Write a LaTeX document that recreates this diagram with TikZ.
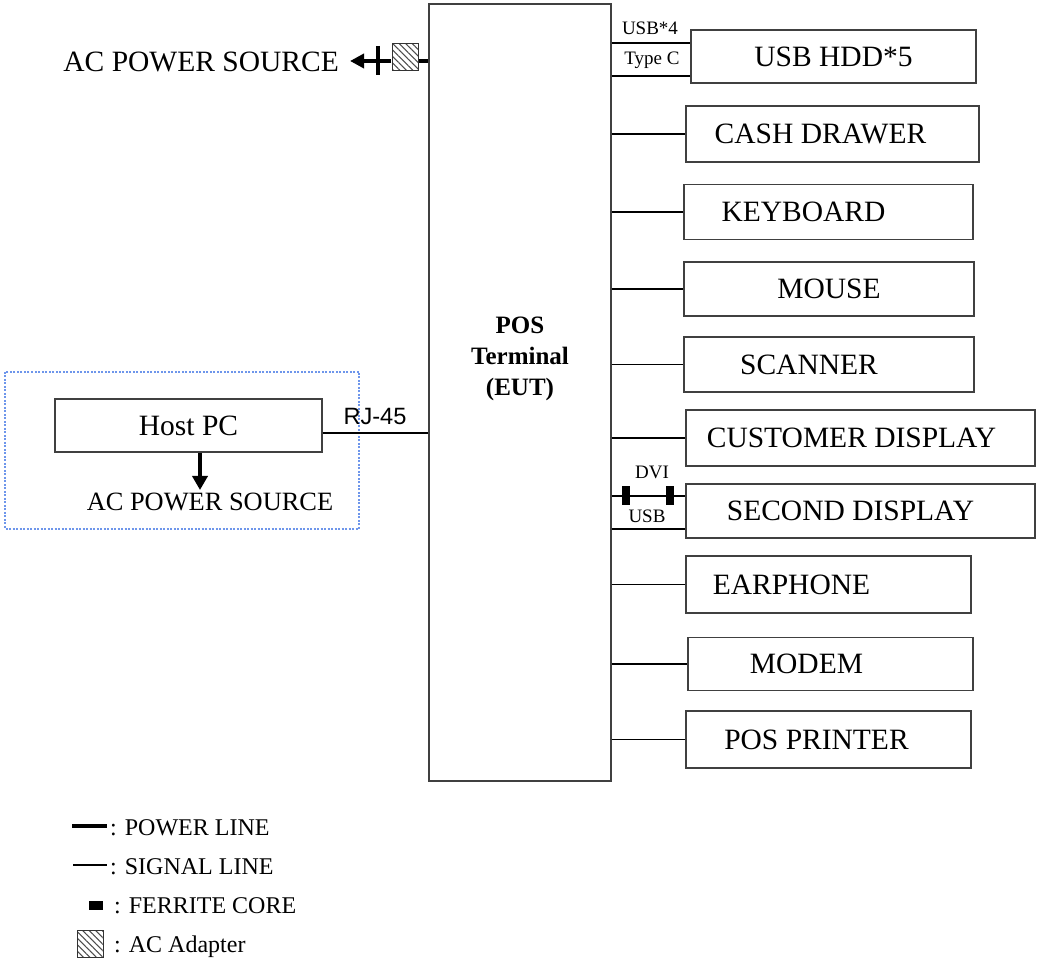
\documentclass[tikz,border=0pt]{standalone}
\usepackage{fontspec}
\setmainfont{Liberation Serif}
\setsansfont{Liberation Sans}
\usetikzlibrary{arrows.meta,patterns.meta}

\tikzset{
  device/.style={draw=black!75, line width=1.3pt, inner sep=0pt, font=\fontsize{29.5}{34}\selectfont},
  signal/.style={line width=1.2pt},
  power/.style={line width=3.5pt},
  ferrite/.style={fill=black, inner sep=0pt, minimum width=8, minimum height=19},
  adapter/.style={draw=black!80, line width=1pt, pattern={Lines[angle=-45, distance=4.6pt, line width=1.1pt]}, pattern color=black!70, inner sep=0pt, minimum width=26, minimum height=27},
  small/.style={font=\fontsize{19}{22}\selectfont, inner sep=0pt, anchor=base},
  legend/.style={anchor=base west, inner sep=0pt, font=\fontsize{24}{28}\selectfont},
}

\begin{document}
\begin{tikzpicture}[x=1pt, y=-1pt]
  \useasboundingbox (0,0) rectangle (1037,965);

  % EUT
  \node[draw=black!75, line width=1.5pt, inner sep=0pt, minimum width=182, minimum height=777,
        label={[font=\bfseries\fontsize{25}{31}\selectfont, align=center, yshift=34]center:POS\\Terminal\\(EUT)}]
        (pos) at (520,392.5) {};

  % Peripherals
  \node[device, minimum width=285, minimum height=53] (hdd) at (833.5,56.5) {USB HDD*5};
  \node[device, minimum width=293, minimum height=56] (cash) at (832.5,134) {CASH DRAWER\hspace*{24pt}};
  \node[device, minimum width=289, minimum height=55] (keyboard) at (828.5,212) {KEYBOARD\hspace*{50pt}};
  \node[device, minimum width=290, minimum height=54] (mouse) at (829,289) {MOUSE};
  \node[device, minimum width=290, minimum height=55] (scanner) at (829,364.5) {SCANNER\hspace*{40pt}};
  \node[device, minimum width=349, minimum height=56] (custdisp) at (860.5,438) {CUSTOMER DISPLAY\hspace*{18pt}};
  \node[device, minimum width=349, minimum height=54] (seconddisp) at (860.5,511) {SECOND DISPLAY\hspace*{20pt}};
  \node[device, minimum width=285, minimum height=57] (earphone) at (828.5,584.5) {EARPHONE\hspace*{74pt}};
  \node[device, minimum width=285, minimum height=53] (modem) at (830.5,664) {MODEM\hspace*{48pt}};
  \node[device, minimum width=285, minimum height=57] (printer) at (828.5,739.5) {POS PRINTER\hspace*{24pt}};

  % Connection points
  \coordinate (usb4) at ([yshift=13.5]hdd.west);
  \coordinate (typec) at ([yshift=-19.5]hdd.west);
  \coordinate (dvi) at ([yshift=15]seconddisp.west);
  \coordinate (usb) at ([yshift=-18]seconddisp.west);

  % Signal lines
  \draw[signal] (pos.east |- usb4) -- (usb4);
  \draw[signal] (pos.east |- typec) -- (typec);
  \draw[signal] (pos.east |- cash.west) -- (cash.west);
  \draw[signal] (pos.east |- keyboard.west) -- (keyboard.west);
  \draw[signal] (pos.east |- mouse.west) -- (mouse.west);
  \draw[signal] (pos.east |- scanner.west) -- (scanner.west);
  \draw[signal] (pos.east |- custdisp.west) -- (custdisp.west);
  \draw[signal] (pos.east |- dvi) -- (dvi)
    node[ferrite, pos=0.2] (fc1) {} node[ferrite, pos=0.79] (fc2) {};
  \draw[signal] (pos.east |- usb) -- (usb);
  \draw[signal] (pos.east |- earphone.west) -- (earphone.west);
  \draw[signal] (pos.east |- modem.west) -- (modem.west);
  \draw[signal] (pos.east |- printer.west) -- (printer.west);

  % Port labels
  \node[small] (usb4lbl) at (650,35) {USB*4};
  \node[small] (typeclbl) at (652,65) {Type C};
  \node[small] (dvilbl) at (652,479) {DVI};
  \node[small] (usblbl) at (647,522) {USB};

  % AC power of EUT
  \node[anchor=base east, inner sep=0pt, font=\fontsize{29.5}{34}\selectfont] (acsrc) at (339,72) {AC POWER SOURCE};
  \coordinate (actip) at (350,61);
  \node[adapter] (adp) at (405,57.5) {};
  \draw[power, -{Triangle[length=14pt, width=14pt]}] (adp.west |- actip) -- (actip);
  \draw[power] (adp.east |- actip) -- (pos.west |- actip);
  \draw[line width=4pt] (378,46) -- (378,75);

  % Host PC
  \draw[draw={rgb,255:red,110;green,150;blue,235}, line width=1.3pt, dash pattern=on 2pt off 1.5pt] (5,372) rectangle (359,529);
  \node[device, minimum width=267, minimum height=53] (host) at (188.5,425.5) {Host PC};
  \coordinate (rj) at ([yshift=-7.5]host.east);
  \draw[signal] (rj) -- (pos.west |- rj);
  \node[anchor=base, inner sep=0pt, font=\sffamily\fontsize{23.6}{28}\selectfont] (rjlbl) at (375,425) {RJ-45};
  \coordinate (plug) at (200,490);
  \draw[power, -{Triangle[length=14pt, width=15pt]}] (host.south -| plug) -- (plug);
  \node[anchor=base, inner sep=0pt, font=\fontsize{26.4}{30}\selectfont] (hostac) at (210,511) {AC POWER SOURCE};

  % Legend
  \draw[power] (72,826) -- (107,826);
  \node[legend] (lgpower) at (110,835) {: POWER LINE};
  \draw[signal] (73,865) -- (107,865);
  \node[legend] (lgsignal) at (110,874) {: SIGNAL LINE};
  \node[ferrite, minimum width=14, minimum height=9] (lgfc) at (96,905) {};
  \node[legend] (lgferrite) at (114,913) {: FERRITE CORE};
  \node[adapter] (lgadp) at (90,944) {};
  \node[legend] (lgadapter) at (114,952) {: AC Adapter};
\end{tikzpicture}
\end{document}
